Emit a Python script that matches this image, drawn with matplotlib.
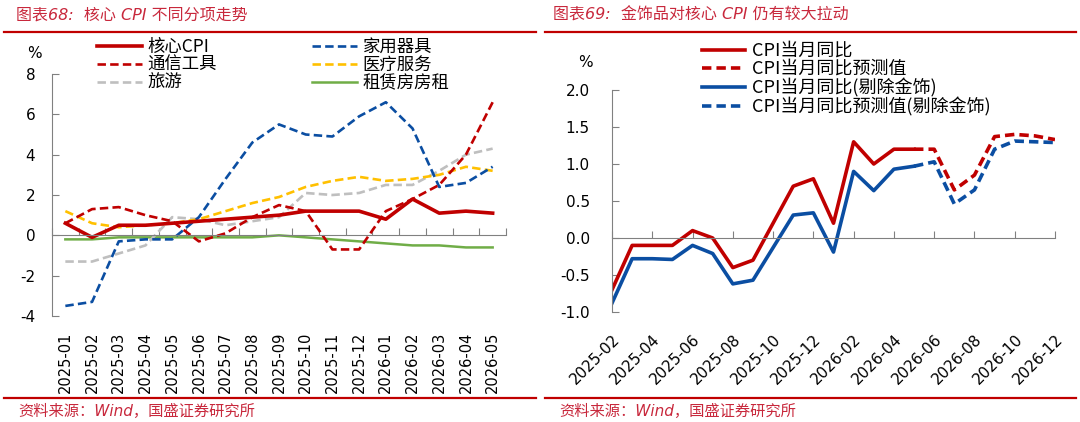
import numpy as np
import matplotlib
matplotlib.use("Agg")
import matplotlib.pyplot as plt
from matplotlib.lines import Line2D

plt.rcParams['font.family'] = ['DejaVu Sans', 'Noto Sans CJK SC']
plt.rcParams['axes.unicode_minus'] = False

# ---- left chart: core CPI components (%)
months_l = ['2025-01', '2025-02', '2025-03', '2025-04', '2025-05', '2025-06',
            '2025-07', '2025-08', '2025-09', '2025-10', '2025-11', '2025-12',
            '2026-01', '2026-02', '2026-03', '2026-04', '2026-05']
core = [0.6, -0.1, 0.5, 0.5, 0.6, 0.7, 0.8, 0.9, 1.0, 1.2, 1.2, 1.2, 0.8, 1.8, 1.1, 1.2, 1.1]
appliance = [-3.5, -3.3, -0.3, -0.2, -0.2, 0.9, 2.8, 4.6, 5.5, 5.0, 4.9, 5.9, 6.6, 5.3, 2.4, 2.6, 3.4]
telecom = [0.6, 1.3, 1.4, 1.0, 0.7, -0.3, 0.1, 0.9, 1.5, 1.2, -0.7, -0.7, 1.2, 1.8, 2.5, 4.0, 6.6]
medical = [1.2, 0.6, 0.4, 0.5, 0.6, 0.8, 1.2, 1.6, 1.9, 2.4, 2.7, 2.9, 2.7, 2.8, 3.0, 3.4, 3.2]
travel = [-1.3, -1.3, -0.9, -0.5, 0.9, 0.8, 0.5, 0.7, 0.9, 2.1, 2.0, 2.1, 2.5, 2.5, 3.2, 4.0, 4.3]
rent = [-0.2, -0.2, -0.1, -0.1, -0.1, -0.1, -0.1, -0.1, 0.0, -0.1, -0.2, -0.3, -0.4, -0.5, -0.5, -0.6, -0.6]

# ---- right chart: CPI yoy, actual + forecast (%)
months_r = ['2025-02', '2025-03', '2025-04', '2025-05', '2025-06', '2025-07',
            '2025-08', '2025-09', '2025-10', '2025-11', '2025-12', '2026-01',
            '2026-02', '2026-03', '2026-04', '2026-05', '2026-06', '2026-07',
            '2026-08', '2026-09', '2026-10', '2026-11', '2026-12']
cpi_actual = [-0.7, -0.1, -0.1, -0.1, 0.1, 0.0, -0.4, -0.3, 0.2, 0.7, 0.8, 0.2, 1.3, 1.0, 1.2, 1.2]
cpi_fcst = [1.2, 1.2, 0.65, 0.85, 1.37, 1.4, 1.38, 1.33]
ex_actual = [-0.88, -0.28, -0.28, -0.29, -0.1, -0.21, -0.62, -0.57, -0.13, 0.31, 0.34, -0.19,
             0.9, 0.64, 0.93, 0.97]
ex_fcst = [0.97, 1.03, 0.46, 0.65, 1.2, 1.31, 1.30, 1.29]
fcst_start = len(cpi_actual) - 1

RED = '#C00000'
BLUE = '#0B4EA2'
TXT_RED = '#C8283C'
AX_GRAY = '#808080'
CJK = ['Noto Sans CJK SC', 'DejaVu Sans']

fig = plt.figure(figsize=(10.8, 4.22), dpi=100)
ax1 = fig.add_axes([52 / 1080, 1 - 316 / 422, 454 / 1080, 242 / 422])
ax2 = fig.add_axes([612 / 1080, 1 - 312 / 422, 443 / 1080, 222 / 422])


def style_axes(ax):
    for s in ['top', 'right']:
        ax.spines[s].set_visible(False)
    ax.spines['left'].set_color(AX_GRAY)
    ax.spines['bottom'].set_color(AX_GRAY)
    ax.spines['bottom'].set_position(('data', 0))
    ax.tick_params(axis='y', direction='in', length=5, color=AX_GRAY, labelsize=11, pad=12)
    ax.tick_params(axis='x', direction='in', length=5, color=AX_GRAY, labelbottom=False)


# ---- left
xl = np.arange(len(months_l))
dash = (3.2, 1.6)
ax1.plot(xl, rent, color='#70AD47', lw=1.8, label='租赁房房租')
ax1.plot(xl, travel, color='#BFBFBF', lw=1.9, dashes=dash, label='旅游')
ax1.plot(xl, medical, color='#FFC000', lw=1.9, dashes=dash, label='医疗服务')
ax1.plot(xl, appliance, color=BLUE, lw=1.9, dashes=dash, label='家用器具')
ax1.plot(xl, telecom, color=RED, lw=1.9, dashes=dash, label='通信工具')
ax1.plot(xl, core, color=RED, lw=2.6, label='核心CPI')
style_axes(ax1)
ax1.set_xlim(-0.5, len(months_l) - 0.5)
ax1.set_ylim(-4, 8)
ax1.set_yticks(np.arange(-4, 9, 2))
ax1.set_xticks(np.arange(-0.5, len(months_l), 1))
sec1 = ax1.secondary_xaxis('bottom')
sec1.set_xticks(xl, months_l, rotation=90)
sec1.tick_params(length=0, labelsize=10.5, pad=11)
sec1.spines['bottom'].set_visible(False)

h, l = ax1.get_legend_handles_labels()
order = ['核心CPI', '通信工具', '旅游', '家用器具', '医疗服务', '租赁房房租']
hd = dict(zip(l, h))
ax1.legend([hd[k] for k in order], order, ncol=2, frameon=False, loc='upper left',
           bbox_to_anchor=(97 / 1080, 1 - 38 / 422), bbox_transform=fig.transFigure,
           borderpad=0, borderaxespad=0, handlelength=2.6, handletextpad=0.3,
           labelspacing=0.0, columnspacing=5.5, prop={'family': CJK, 'size': 12.5})
fig.text(34 / 1080, 1 - 53 / 422, '%', ha='center', va='center', fontsize=11)

# ---- right
xr = np.arange(len(months_r))
xf = xr[fcst_start:]
ax2.plot(xf, ex_fcst, color=BLUE, lw=2.6, dashes=(2.6, 1.4), label='CPI当月同比预测值(剔除金饰)')
ax2.plot(xf, cpi_fcst, color=RED, lw=2.6, dashes=(2.6, 1.4), label='CPI当月同比预测值')
ax2.plot(xr[:len(ex_actual)], ex_actual, color=BLUE, lw=2.6, label='CPI当月同比(剔除金饰)')
ax2.plot(xr[:len(cpi_actual)], cpi_actual, color=RED, lw=2.6, label='CPI当月同比')
style_axes(ax2)
ax2.set_xlim(0, len(months_r) - 1)
ax2.set_ylim(-1, 2)
ax2.set_yticks(np.arange(-1, 2.01, 0.5))
ax2.yaxis.set_major_formatter(matplotlib.ticker.FormatStrFormatter('%.1f'))
ax2.tick_params(axis='y', pad=16)
ax2.set_xticks(xr[::2])
sec2 = ax2.secondary_xaxis('bottom')
sec2.set_xticks(xr[::2], months_r[::2])
for t in sec2.get_xticklabels():
    t.set_rotation(45)
    t.set_ha('right')
    t.set_rotation_mode('anchor')
sec2.tick_params(length=0, labelsize=11, pad=14)
sec2.spines['bottom'].set_visible(False)

h, l = ax2.get_legend_handles_labels()
order = ['CPI当月同比', 'CPI当月同比预测值', 'CPI当月同比(剔除金饰)', 'CPI当月同比预测值(剔除金饰)']
hd = dict(zip(l, h))
ax2.legend([hd[k] for k in order], order, frameon=False, loc='upper left',
           bbox_to_anchor=(702 / 1080, 1 - 42 / 422), bbox_transform=fig.transFigure,
           borderpad=0, borderaxespad=0, handlelength=2.4, handletextpad=0.35,
           labelspacing=0.0, prop={'family': CJK, 'size': 13})
fig.text(585 / 1080, 1 - 63 / 422, '%', ha='center', va='center', fontsize=11)

# ---- titles, rules and sources
fig.text(16 / 1080, 1 - 15 / 422, '图表68:  核心 CPI 不同分项走势', color=TXT_RED,
         fontsize=11.5, style='italic', va='center')
fig.text(553 / 1080, 1 - 15 / 422, '图表69:  金饰品对核心 CPI 仍有较大拉动', color=TXT_RED,
         fontsize=11.5, style='italic', va='center')
for x0, x1 in [(4, 536), (545, 1076)]:
    for yy in (32, 398):
        fig.add_artist(Line2D([x0 / 1080, x1 / 1080], [1 - yy / 422] * 2,
                              transform=fig.transFigure, color=RED, lw=1.6))
    fig.text((x0 + 14) / 1080, 1 - 411 / 422, '资料来源：Wind，国盛证券研究所', color=TXT_RED,
             fontsize=11, style='italic', va='center')

fig.savefig('out.png', dpi=100)
